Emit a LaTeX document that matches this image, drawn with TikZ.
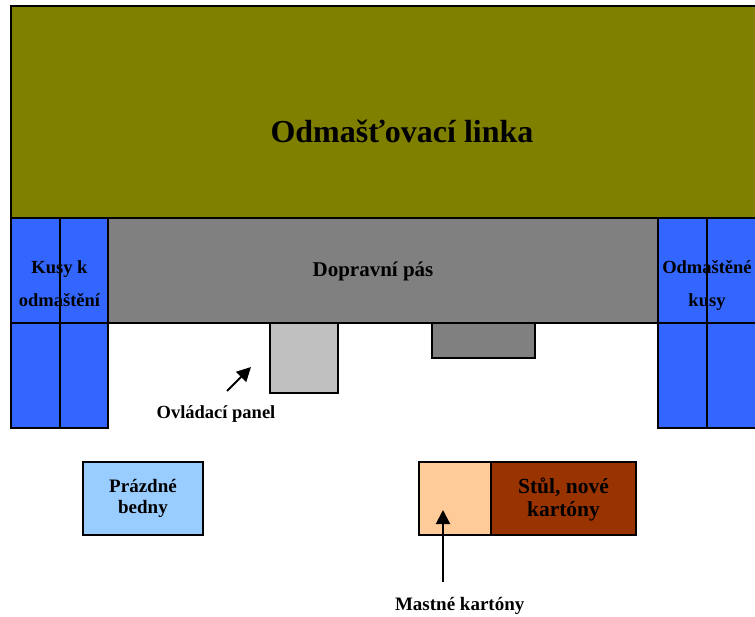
\documentclass[tikz,border=0pt]{standalone}
\usepackage{fontspec}
\setmainfont{Liberation Serif}
\usetikzlibrary{arrows.meta}

\definecolor{lineolive}{HTML}{808000}
\definecolor{binblue}{HTML}{3366FF}
\definecolor{beltgray}{HTML}{808080}
\definecolor{panelgray}{HTML}{C0C0C0}
\definecolor{crateblue}{HTML}{99CCFF}
\definecolor{greasepeach}{HTML}{FFCC99}
\definecolor{tablebrown}{HTML}{993300}

\begin{document}
\begin{tikzpicture}[x=1pt,y=-1pt,
  area/.style={draw=black,line width=1.5pt,inner sep=0pt,outer sep=0pt,anchor=north west},
  lbl/.style={anchor=base,inner sep=0pt,font=\bfseries\fontsize{#1}{#1}\selectfont},
  lbl/.default=18.5,
  ptr/.style={line width=2pt,-{Triangle[length=14pt,width=14pt]}}]
\useasboundingbox (0,0) rectangle (755,617);
\fill[white] (0,0) rectangle (755,617);
\clip (0,0) rectangle (755,617);

% degreasing line
\node[area,fill=lineolive,minimum width=746pt,minimum height=212pt] (linka) at (11,6) {};

% incoming parts (left bins)
\node[area,fill=binblue,minimum width=49pt,minimum height=105pt] (inA) at (11,218) {};
\node[area,fill=binblue,minimum width=48pt,minimum height=105pt] (inB) at (60,218) {};
\node[area,fill=binblue,minimum width=49pt,minimum height=105pt] (inC) at (11,323) {};
\node[area,fill=binblue,minimum width=48pt,minimum height=105pt] (inD) at (60,323) {};

% conveyor belt
\node[area,fill=beltgray,minimum width=550pt,minimum height=105pt] (pas) at (108,218) {};

% degreased parts (right bins)
\node[area,fill=binblue,minimum width=49pt,minimum height=105pt] (outA) at (658,218) {};
\node[area,fill=binblue,minimum width=50pt,minimum height=105pt] (outB) at (707,218) {};
\node[area,fill=binblue,minimum width=49pt,minimum height=105pt] (outC) at (658,323) {};
\node[area,fill=binblue,minimum width=50pt,minimum height=105pt] (outD) at (707,323) {};

% control panel and second unit under the belt
\node[area,fill=panelgray,minimum width=68pt,minimum height=70pt] (panel) at (270,323) {};
\node[area,fill=beltgray,minimum width=103pt,minimum height=35pt] (unit) at (432,323) {};

% floor items
\node[area,fill=crateblue,minimum width=120pt,minimum height=73pt] (bedny) at (83,462) {};
\node[area,fill=greasepeach,minimum width=72pt,minimum height=73pt] (mastne) at (419,462) {};
\node[area,fill=tablebrown,minimum width=145pt,minimum height=73pt] (stul) at (491,462) {};

% labels
\node[lbl=32] (tLinka) at (402,143) {Odmašťovací linka};
\node[lbl=21] (tPas) at (373,276.7) {Dopravní pás};
\node[lbl] (tIn1) at (59.5,274) {Kusy k};
\node[lbl] (tIn2) at (59.5,306.7) {odmaštění};
\node[lbl] (tOut1) at (707,274) {Odmaštěné};
\node[lbl] (tOut2) at (707,306.7) {kusy};
\node[lbl] (tPanel) at (216,418) {Ovládací panel};
\node[lbl=19] (tBed1) at (143,492.7) {Prázdné};
\node[lbl=19] (tBed2) at (143,513) {bedny};
\node[lbl=21.5] (tStul1) at (563.5,493) {Stůl, nové};
\node[lbl=21.5] (tStul2) at (563.5,516.7) {kartóny};
\node[lbl=19] (tMastne) at (459.7,610) {Mastné kartóny};

% pointers
\coordinate (pTail) at (227,391);
\coordinate (pTip) at (251,367);
\draw[ptr] (pTail) -- (pTip);
\coordinate (mTail) at (443,582);
\coordinate (mTip) at (443,510);
\draw[ptr] (mTail) -- (mTip);
\end{tikzpicture}
\end{document}
